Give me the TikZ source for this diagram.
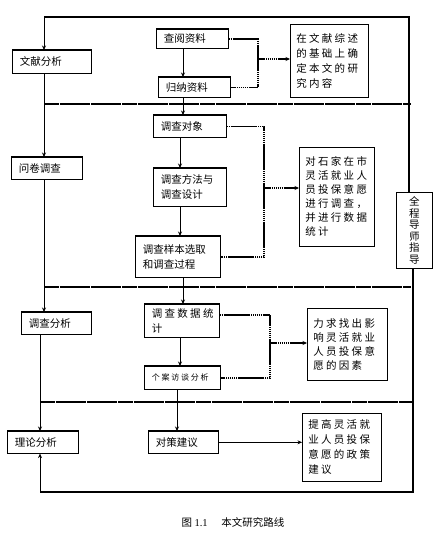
\documentclass[tikz,border=0pt]{standalone}
\usepackage{fontspec}
\setmainfont{Liberation Serif}
\newfontfamily\cjk{Noto Sans CJK SC}
\newfontfamily\cjkw[LetterSpace=22]{Noto Sans CJK SC}
\usetikzlibrary{arrows.meta}
\tikzset{
  bx/.style={draw,line width=0.6pt,anchor=north west,inner xsep=7.5pt,inner ysep=1pt,align=left,
    font=\cjk\fontsize{10.5}{15}\selectfont,
    append after command={(\tikzlastnode.north west) edge[line width=1.4pt] (\tikzlastnode.north east)}},
  nt/.style={draw,line width=0.6pt,anchor=north west,inner xsep=6pt,inner ysep=1pt,align=left,
    font=\cjkw\fontsize{10.5}{15}\selectfont},
  frame/.style={line width=1.5pt},
  sep/.style={line width=1.4pt,dash pattern=on 15pt off 0.6pt},
  link/.style={line width=0.8pt,-{Stealth[length=4.5pt,width=4pt]}},
  dots/.style={line width=1.4pt,dash pattern=on 1.6pt off 0.35pt},
}

\begin{document}
\begin{tikzpicture}[x=1pt,y=-1pt]
  \useasboundingbox (0,0) rectangle (445,533);
  \node[bx,text width=64pt,minimum height=23pt] (wx) at (12,50) {文献分析};
  \node[bx,text width=56pt,minimum height=22pt] (wj) at (11,157) {问卷调查};
  \node[bx,text width=55pt,minimum height=22pt] (fx) at (21,312) {调查分析};
  \node[bx,text width=56pt,minimum height=22pt] (ll) at (7,431) {理论分析};
  \node[bx,text width=57pt,minimum height=19pt] (cy) at (156,29) {查阅资料};
  \node[bx,text width=57pt,minimum height=20pt] (gn) at (158,77) {归纳资料};
  \node[bx,text width=58pt,minimum height=22pt] (dc) at (153,115) {调查对象};
  \node[bx,text width=58pt,minimum height=38pt] (ff) at (153,168) {调查方法与\\调查设计};
  \node[bx,text width=70pt,minimum height=41pt] (yb) at (135,236) {调查样本选取\\和调查过程};
  \node[bx,text width=60pt,minimum height=33pt,font=\cjkw\fontsize{10.5}{15}\selectfont] (tj) at (144,304) {调查数据统\\计};
  \node[bx,text width=61pt,minimum height=23pt,font=\cjkw\fontsize{8}{10}\selectfont] (ga) at (144,366) {个案访谈分析};
  \node[bx,text width=55pt,minimum height=22pt] (dj) at (148,431) {对策建议};
  \node[nt,text width=66pt,minimum height=73pt] (wz) at (290,24) {在文献综述\\的基础上确\\定本文的研\\究内容};
  \node[nt,text width=63pt,minimum height=99pt,font=\cjkw\fontsize{10.5}{14}\selectfont] (ds) at (299,147) {对石家在市\\灵活就业人\\员投保意愿\\进行调查，\\并进行数据\\统计};
  \node[nt,text width=68pt,minimum height=72pt,font=\cjkw\fontsize{10.5}{14}\selectfont] (lq) at (307,308) {力求找出影\\响灵活就业\\人员投保意\\愿的因素};
  \node[nt,text width=67pt,minimum height=68pt] (tg) at (302,413) {提高灵活就\\业人员投保\\意愿的政策\\建议};
  \node[draw,line width=0.6pt,anchor=north west,minimum width=36pt,minimum height=76pt,inner sep=0pt,
    align=center,font=\cjk\fontsize{10.5}{11.5}\selectfont] (qc) at (396,192) {全\\程\\导\\师\\指\\导};
  \node[font=\cjk\fontsize{10.5}{12}\selectfont] (cap) at (233,522) {图 {\rmfamily 1.1}\hspace{1.3em}本文研究路线};

  \coordinate (tl) at (44,17);
  \coordinate (tr) at (409,17);
  \coordinate (bl) at (40,492);
  \coordinate (br) at (413,492);
  \coordinate (m1) at (183,0);
  \coordinate (m2) at (180,0);
  \coordinate (m3) at (177,0);
  \coordinate (j1) at (258,59);
  \coordinate (j2) at (264,188);
  \coordinate (j3) at (270,343);

  \draw[frame] (tr |- qc.north) -- (tr) -- (tl);
  \draw[link] (tl) -- (tl |- wx.north);
  \draw[frame] (br |- qc.south) -- (br) -- (bl);
  \draw[link] (bl) -- (bl |- ll.south);
  \draw[sep] (44,104) -- (411,104);
  \draw[sep] (44,287) -- (411,287);
  \draw[sep] (40,402) -- (413,402);

  \draw[link] (wx.south -| tl) -- (wj.north -| tl);
  \draw[link] (wj.south -| tl) -- (fx.north -| tl);
  \draw[link] (fx.south -| bl) -- (ll.north -| bl);

  \draw[link] (cy.south -| m1) -- (gn.north -| m1);
  \draw[link] (gn.south -| m1) -- (dc.north -| m1);
  \draw[link] (dc.south -| m2) -- (ff.north -| m2);
  \draw[link] (ff.south -| m2) -- (yb.north -| m2);
  \draw[link] (yb.south -| m1) -- (tj.north -| m1);
  \draw[link] (tj.south -| m2) -- (ga.north -| m2);
  \draw[link] (ga.south -| m3) -- (dj.north -| m3);
  \draw[link] (dj.east) -- (tg.west |- dj.east);

  \draw[dots] (cy.east) -- (cy.east -| j1) -- (gn.east -| j1) -- (gn.east);
  \draw[dots,-{Stealth[length=4.5pt,width=4pt]}] (j1) -- (j1 -| wz.west);
  \draw[dots] (dc.east) -- (dc.east -| j2) -- (yb.east -| j2) -- (yb.east);
  \draw[dots,-{Stealth[length=4.5pt,width=4pt]}] (j2) -- (j2 -| ds.west);
  \draw[dots] ([yshift=6pt]tj.east) -- ([yshift=6pt]tj.east -| j3) -- (ga.east -| j3) -- (ga.east);
  \draw[dots,-{Stealth[length=4.5pt,width=4pt]}] (j3) -- (j3 -| lq.west);
\end{tikzpicture}
\end{document}
